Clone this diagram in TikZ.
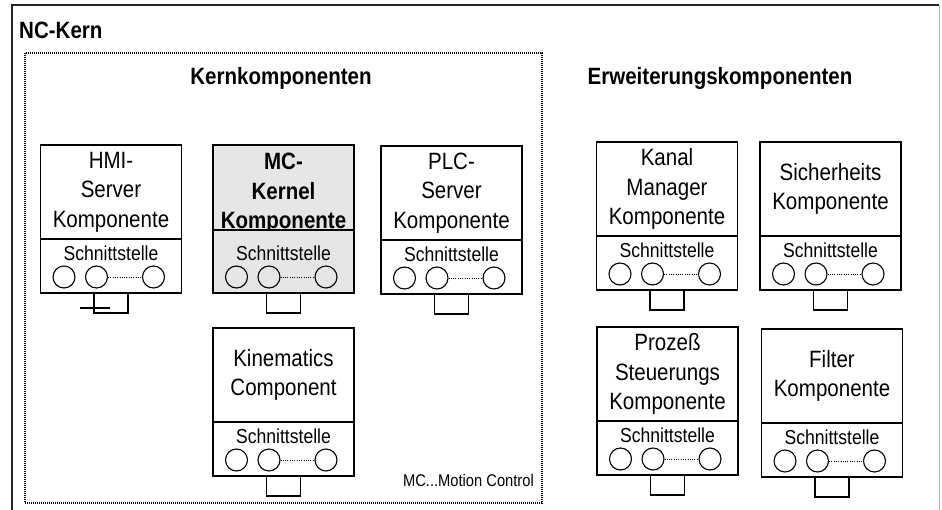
\documentclass[tikz,border=0pt]{standalone}
\usepackage{fontspec}
\setmainfont{Liberation Sans}[FakeStretch=0.87]
\usepackage{xcolor}
\usetikzlibrary{positioning,calc}
\definecolor{kerngrau}{HTML}{E6E6E6}
\newcommand{\gross}{\fontsize{23.6}{29.5}\selectfont}
\newcommand{\klein}{\fontsize{20.2}{22}\selectfont}
% one component: [extra style]{name}{top centre}{label}
\newcommand{\komponente}[4][]{%
  \coordinate (#2-u) at ($(#3)+(0,148)$);
  \node[kompbox,#1] (#2) at (#3) {#4};
  \draw[line width=1.3pt,#1] (#2.south west) rectangle ($(#2-u)+(70.5,0)$);
  \node[sst] (#2-t) at ($(#2-u)+(0,-40)$) {Schnittstelle};
  \node[port] (#2-a) at ($(#2-u)+(-47,-16)$) {};
  \node[port] (#2-b) at ($(#2-u)+(-14.5,-16)$) {};
  \node[port] (#2-c) at ($(#2-u)+(42.5,-16)$) {};
  \draw[punkte] (#2-b) -- (#2-c);
  \node[stecker] (#2-st) at (#2-u) {};
}

\begin{document}
\begin{tikzpicture}[x=1pt,y=-1pt,
    kompbox/.style={draw,line width=1.3pt,anchor=north,minimum width=141,
      minimum height=94,inner sep=0,outer sep=0,align=center,font=\gross},
    sst/.style={font=\klein,inner sep=0},
    port/.style={circle,draw,line width=1.1pt,minimum size=22,inner sep=0},
    punkte/.style={line width=0.8pt,dash pattern=on 1pt off 1.3pt},
    stecker/.style={draw,line width=1.3pt,anchor=north,minimum width=34,
      minimum height=20,inner sep=0,outer sep=0},
    titel/.style={font=\gross\bfseries,inner sep=0}]
    \useasboundingbox (0,0) rectangle (942,510);

    % Outer frame
    \draw[line width=1.2pt,black!85] (12,510) |- (939,5);
    \draw[line width=0.8pt,gray!60] (939,5) -- (939,510);
    \node[titel,anchor=west] (nckern) at (19,30) {NC-Kern};

    % Core area (dotted)
    \draw[line width=1.2pt,dash pattern=on 1pt off 1pt] (25,53) rectangle (542,503);
    \node[titel] (kern) at (281,78) {Kernkomponenten};
    \node[titel] (erw) at (720,78) {Erweiterungskomponenten};
    \node[anchor=east,inner sep=0,font=\fontsize{16.9}{19}\selectfont] (legende)
      at (534,480) {MC...Motion Control};

    % Core components
    \komponente{hmi}{111,145}{HMI-\\Server\\Komponente}
    \komponente[fill=kerngrau,minimum height=85,text depth=0pt,font=\gross\bfseries]{mc}{283.5,145}{\rule{0pt}{24pt}MC-\\Kernel\\Komponente}
    \komponente{plc}{451.5,146}{PLC-\\Server\\Komponente}
    \komponente{kin}{283.5,328}{Kinematics\\Component}
    \draw[line width=1.3pt] ($(hmi-st.south west)+(-14,-5)$) -- ++(30,0);

    % Extension components
    \komponente{kanal}{667,142}{Kanal\\Manager\\Komponente}
    \komponente{sicher}{830.5,142}{Sicherheits\\Komponente}
    \komponente{prozess}{667.5,327}{Prozeß\\Steuerungs\\Komponente}
    \komponente{filter}{832,329}{Filter\\Komponente}
\end{tikzpicture}
\end{document}
